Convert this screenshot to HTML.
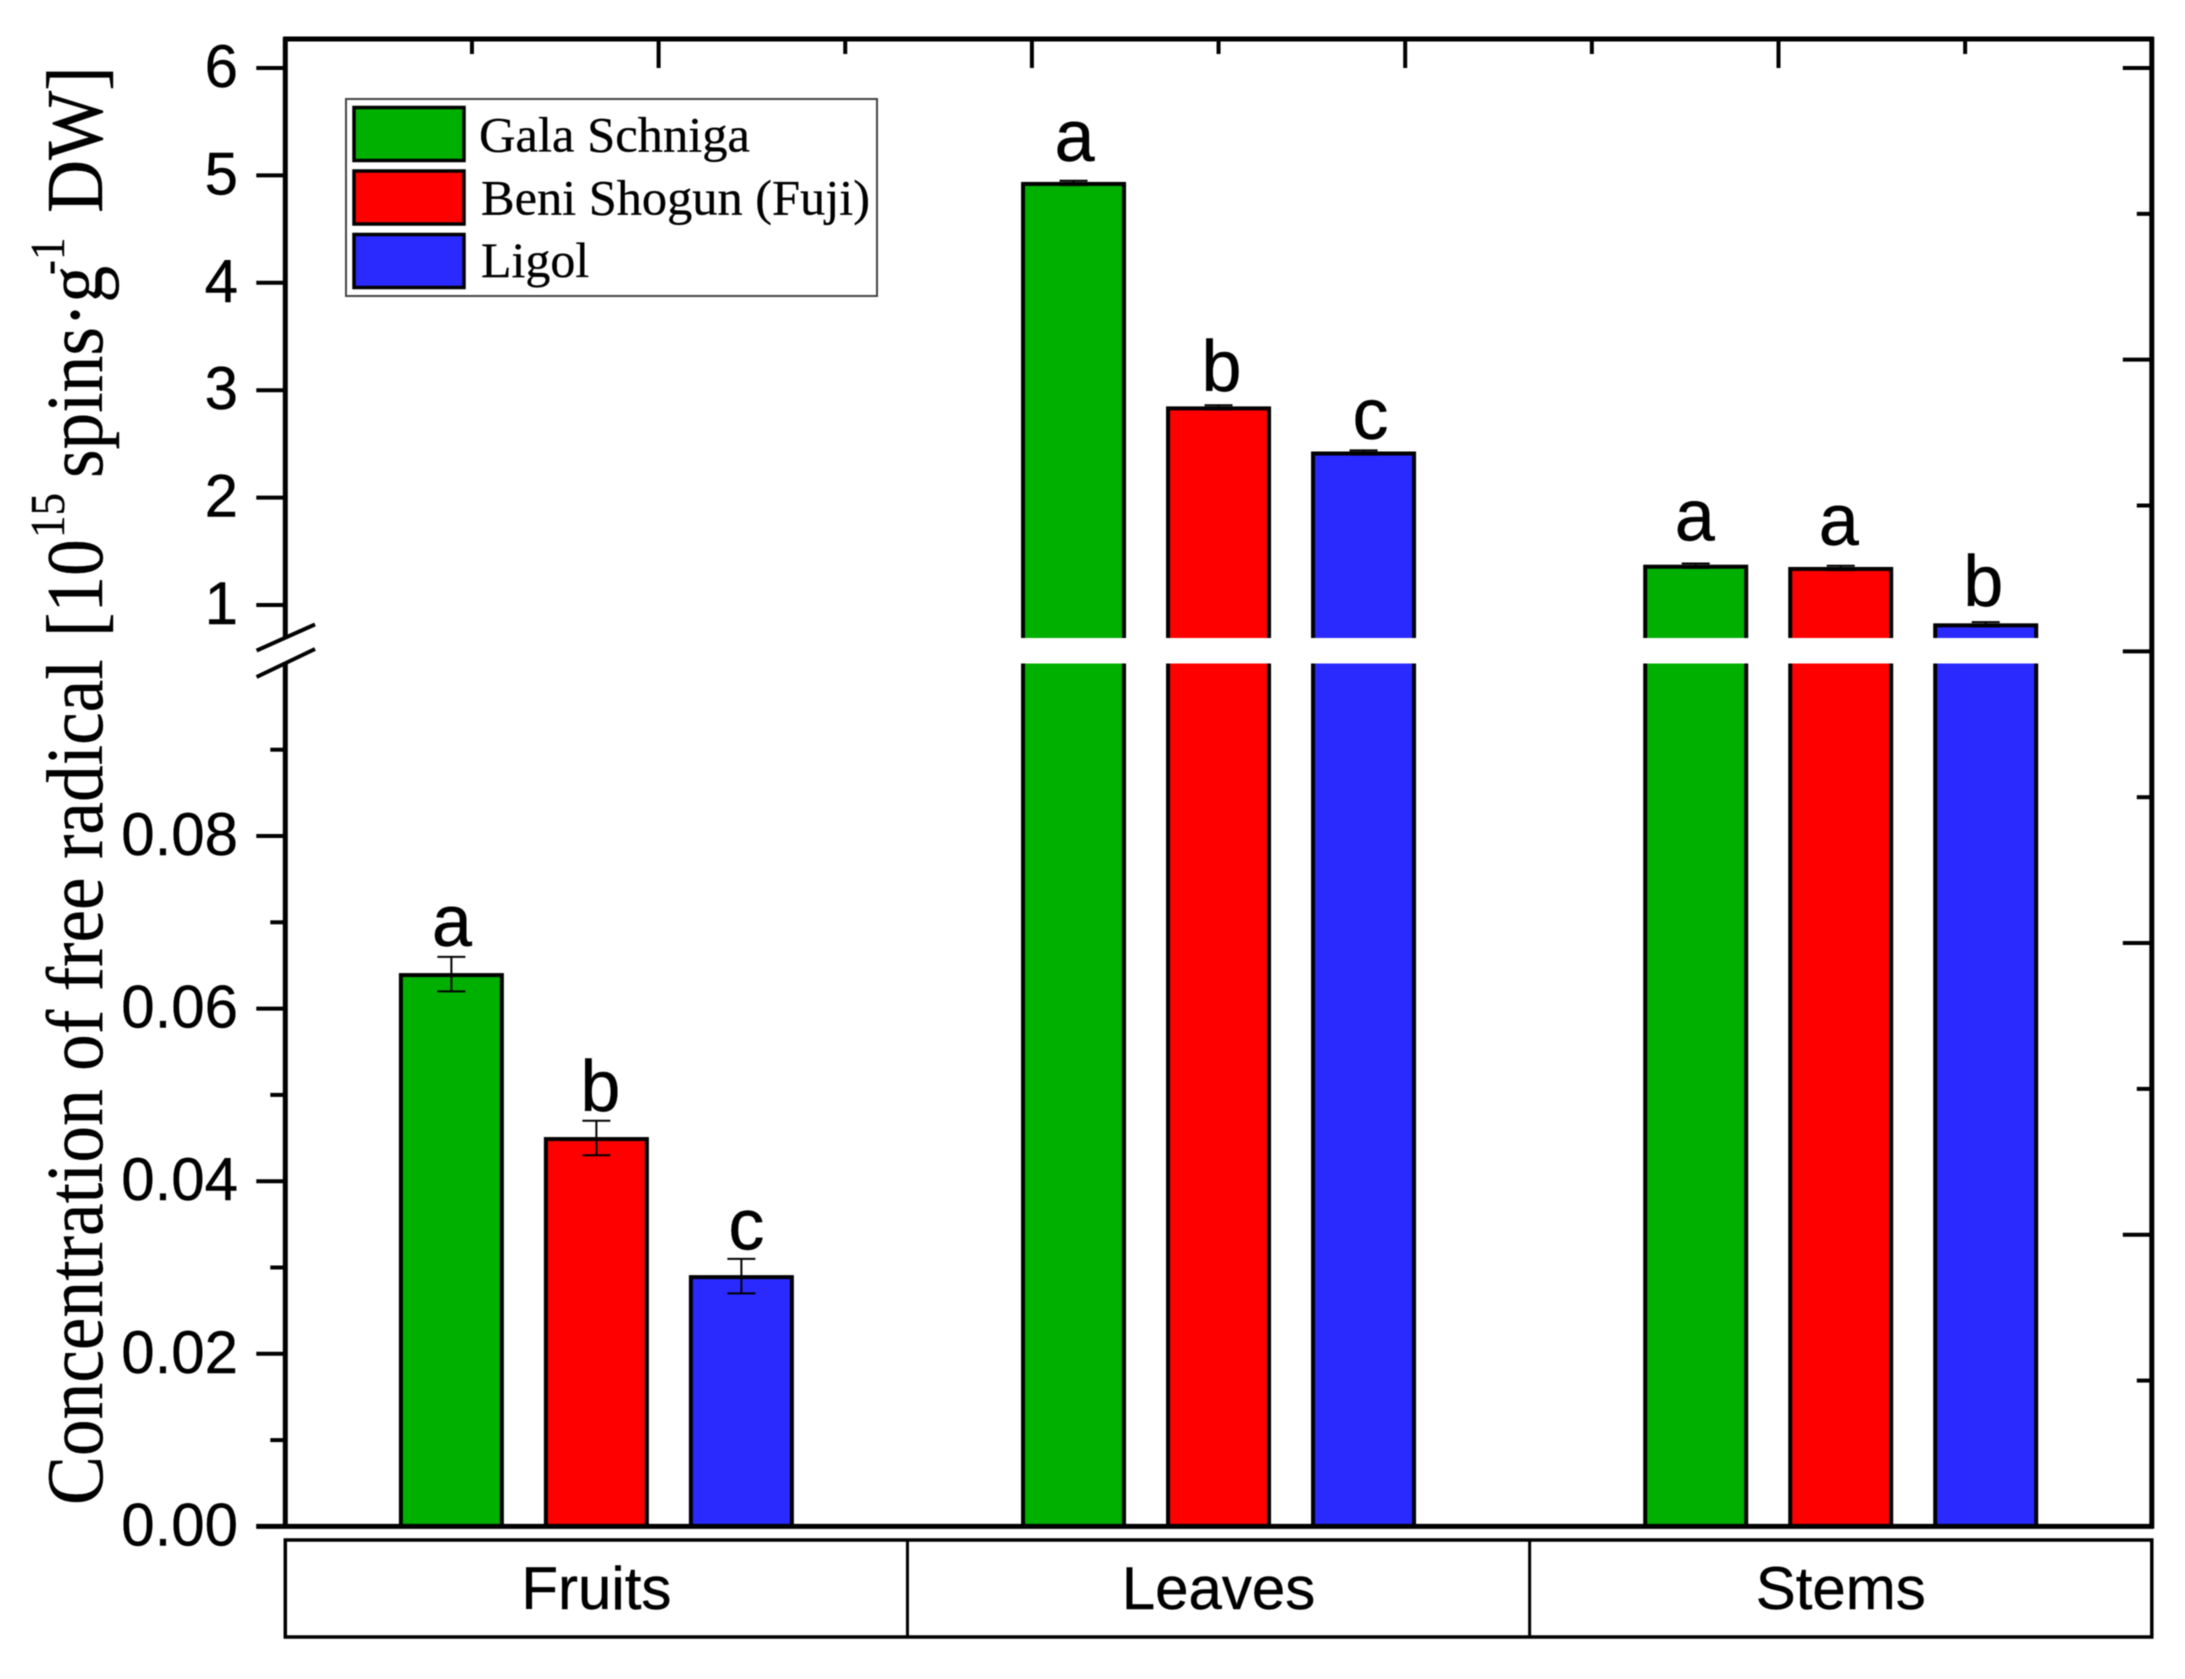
<!DOCTYPE html>
<html lang="en">
<head>
<meta charset="utf-8">
<title>Concentration of free radical in apple organs</title>
<style>
html,body{margin:0;padding:0;background:#fff;width:2185px;height:1679px;overflow:hidden}
svg{display:block;filter:blur(0.6px)}
.sans{font-family:"Liberation Sans",sans-serif;fill:#000;stroke:#000;stroke-width:.4px}
.serif{font-family:"Liberation Serif",serif;fill:#000;stroke:#000;stroke-width:.3px}
</style>
</head>
<body>
<svg id="chart" xmlns="http://www.w3.org/2000/svg" width="2185" height="1679" viewBox="0 0 2185 1679">
  <rect x="0" y="0" width="2185" height="1679" fill="#fff"/>
  <g id="bars"></g>
  <g id="axes"></g>
  <g id="cats"></g>
  <g id="labels"></g>

  <text class="serif" transform="translate(102,1505) rotate(-90) scale(1,1.09)" font-size="73.4">Concentration of free radical <tspan x="868">[10</tspan><tspan x="967" y="-35" font-size="45">15</tspan><tspan x="1027" y="0">spins·g</tspan><tspan x="1230" y="-35" font-size="45">-1</tspan><tspan x="1292" y="0">DW]</tspan></text>

  <g>
    <rect x="346" y="99" width="531" height="197" fill="#fff" stroke="#444" stroke-width="2"/>
    <rect x="354" y="107.5" width="110" height="53" fill="#00b000" stroke="#000" stroke-width="3.5"/>
    <rect x="354" y="171" width="110" height="53" fill="#ff0000" stroke="#000" stroke-width="3.5"/>
    <rect x="354" y="234.5" width="110" height="53" fill="#2a2aff" stroke="#000" stroke-width="3.5"/>
    <text class="serif" x="479" y="151.5" font-size="50" textLength="271" lengthAdjust="spacingAndGlyphs">Gala Schniga</text>
    <text class="serif" x="481" y="214.5" font-size="50" textLength="389" lengthAdjust="spacingAndGlyphs">Beni Shogun (Fuji)</text>
    <text class="serif" x="481" y="277" font-size="50">Ligol</text>
  </g>
</svg>

<script>
const categories = ['Fruits', 'Leaves', 'Stems'];
const seriesNames = ['Gala Schniga', 'Beni Shogun (Fuji)', 'Ligol'];
const galaValues = [0.064, 4.93, 1.366];
const beniValues = [0.045, 2.84, 1.345];
const ligolValues = [0.029, 2.42, 0.82];
const galaErrors = [0.002, 0.02, 0.02];
const beniErrors = [0.002, 0.02, 0.02];
const ligolErrors = [0.002, 0.02, 0.02];
const galaLetters = ['a', 'a', 'a'];
const beniLetters = ['b', 'b', 'a'];
const ligolLetters = ['c', 'c', 'b'];
const upperTicks = [1, 2, 3, 4, 5, 6];
const upperTickLabels = ['1', '2', '3', '4', '5', '6'];
const lowerMajorTicks = [0, 0.02, 0.04, 0.06, 0.08];
const lowerTickLabels = ['0.00', '0.02', '0.04', '0.06', '0.08'];
const lowerMinorTicks = [0.01, 0.03, 0.05, 0.07, 0.09];

const seriesValues = [galaValues, beniValues, ligolValues];
const seriesErrors = [galaErrors, beniErrors, ligolErrors];
const seriesLetters = [galaLetters, beniLetters, ligolLetters];
const seriesColors = ['#00b000', '#ff0000', '#2a2aff'];

const NS = 'http://www.w3.org/2000/svg';
const plotLeft = 285.3, plotRight = 2151.8, plotTop = 39, plotBottom = 1526.4;
const breakLowValue = 0.1, breakHighValue = 0.7;
const gapTop = 638, gapBottom = 663.5;

function yAxis(v) {
  if (v <= breakLowValue) return plotBottom - v * 8630;
  if (v >= breakHighValue) return 605 - (v - 1) * 107.4;
  return gapTop;
}
function xAxis(categoryIndex) {
  return plotLeft + (categoryIndex + 0.5) * (plotRight - plotLeft) / categories.length;
}
function barCenter(categoryIndex, seriesIndex) {
  return xAxis(categoryIndex) + (seriesIndex - 1) * 145;
}
function make(parent, tag, attrs, text) {
  const el = document.createElementNS(NS, tag);
  for (const k in attrs) el.setAttribute(k, attrs[k]);
  if (text !== undefined) el.textContent = text;
  parent.appendChild(el);
  return el;
}

const barsLayer = document.getElementById('bars');
const axesLayer = document.getElementById('axes');
const catsLayer = document.getElementById('cats');
const labelsLayer = document.getElementById('labels');
const barOuter = 105, barStroke = 4;

categories.forEach(function (cat, c) {
  seriesNames.forEach(function (name, s) {
    const v = seriesValues[s][c];
    const e = seriesErrors[s][c];
    const cx = barCenter(c, s);
    const yTop = yAxis(v);
    const bar = make(barsLayer, 'rect', {
      x: cx - barOuter / 2 + barStroke / 2,
      y: yTop + 1,
      width: barOuter - barStroke,
      height: plotBottom - yTop - 1,
      fill: seriesColors[s],
      stroke: '#000',
      'stroke-width': barStroke
    });
    
    

    const stem = make(barsLayer, 'line', {
      x1: cx, x2: cx, y1: yAxis(v + e) , y2: yAxis(v - e),
      stroke: '#000', 'stroke-width': 2
    });
    
    

    const capTop = make(barsLayer, 'line', {
      x1: cx - 14, x2: cx + 14, y1: yAxis(v + e), y2: yAxis(v + e),
      stroke: '#000', 'stroke-width': 2
    });
    
    

    const capBottom = make(barsLayer, 'line', {
      x1: cx - 14, x2: cx + 14, y1: yAxis(v - e), y2: yAxis(v - e),
      stroke: '#000', 'stroke-width': 2
    });
    
    

    const lift = [[11, 20, 23], [10, 14, 21], [9.5, 11.5, 16]][s][c];
    const letter = make(labelsLayer, 'text', {
      x: cx + [[0.5, 1, -1], [4, 3, -2], [5, 7, -2.5]][s][c],
      y: yAxis(v + e) - lift,
      'text-anchor': 'middle',
      'font-size': 72,
      class: 'sans'
    }, seriesLetters[s][c]);
    
    
  });

  const catText = make(catsLayer, 'text', {
    x: xAxis(c), y: 1609, 'text-anchor': 'middle', 'font-size': 60, class: 'sans'
  }, cat);
  
  
});

/* white axis-break band across the bars */
const gap = make(barsLayer, 'rect', {
  x: plotLeft + 4, y: gapTop, width: plotRight - plotLeft - 8, height: gapBottom - gapTop, fill: '#fff'
});



/* category panel frame */
const catFrame = make(catsLayer, 'rect', {
  x: plotLeft, y: 1540, width: plotRight - plotLeft, height: 97, fill: 'none', stroke: '#000', 'stroke-width': 3.5
});


[1, 2].forEach(function (i) {
  const x = plotLeft + i * (plotRight - plotLeft) / categories.length;
  const sep = make(catsLayer, 'line', { x1: x, x2: x, y1: 1540, y2: 1637, stroke: '#000', 'stroke-width': 3 });
  
  
});

/* axis lines */
const axisW = 5;
const leftUpper = make(axesLayer, 'line', { x1: plotLeft, x2: plotLeft, y1: plotTop - 2, y2: gapTop, stroke: '#000', 'stroke-width': axisW });


const leftLower = make(axesLayer, 'line', { x1: plotLeft, x2: plotLeft, y1: gapBottom, y2: plotBottom, stroke: '#000', 'stroke-width': axisW });


const rightLine = make(axesLayer, 'line', { x1: plotRight, x2: plotRight, y1: plotTop - 2, y2: plotBottom + 2, stroke: '#000', 'stroke-width': axisW });


const topLine = make(axesLayer, 'line', { x1: plotLeft - 2, x2: plotRight + 2, y1: plotTop, y2: plotTop, stroke: '#000', 'stroke-width': axisW });


const bottomLine = make(axesLayer, 'line', { x1: plotLeft - 29, x2: plotRight + 2, y1: plotBottom, y2: plotBottom, stroke: '#000', 'stroke-width': axisW });



/* break marks */
[[650.6, 624.4], [677, 649]].forEach(function (m) {
  const mark = make(axesLayer, 'line', { x1: 256.6, x2: 315, y1: m[0], y2: m[1], stroke: '#000', 'stroke-width': 4 });
  
  
});

/* y ticks + labels */
upperTicks.forEach(function (t, i) {
  const y = yAxis(t);
  const tick = make(axesLayer, 'line', { x1: plotLeft - 29, x2: plotLeft, y1: y, y2: y, stroke: '#000', 'stroke-width': 4 });
  
  
  const lab = make(axesLayer, 'text', { x: 238, y: y + 19, 'text-anchor': 'end', 'font-size': 60, class: 'sans' }, upperTickLabels[i]);
  
  
});
lowerMajorTicks.forEach(function (t, i) {
  const y = yAxis(t);
  const tick = make(axesLayer, 'line', { x1: plotLeft - 29, x2: plotLeft, y1: y, y2: y, stroke: '#000', 'stroke-width': 4 });
  
  
  const lab = make(axesLayer, 'text', { x: 238, y: y + 19, 'text-anchor': 'end', 'font-size': 60, class: 'sans' }, lowerTickLabels[i]);
  
  
});
lowerMinorTicks.forEach(function (t) {
  const y = yAxis(t);
  const tick = make(axesLayer, 'line', { x1: plotLeft - 15, x2: plotLeft, y1: y, y2: y, stroke: '#000', 'stroke-width': 4 });
  
  
});

/* mirrored ticks: right and top edges */
const rightSteps = 10, topSteps = 10;
for (let i = 0; i < rightSteps; i++) {
  const y = 68 + i * (plotBottom - 68) / rightSteps;
  const len = i % 2 === 0 ? 29 : 15;
  const tick = make(axesLayer, 'line', { x1: plotRight - len, x2: plotRight, y1: y, y2: y, stroke: '#000', 'stroke-width': 4 });
  
  
}
for (let i = 1; i < topSteps; i++) {
  const x = plotLeft + i * (plotRight - plotLeft) / topSteps;
  const len = i % 2 === 0 ? 29 : 15;
  const tick = make(axesLayer, 'line', { x1: x, x2: x, y1: plotTop, y2: plotTop + len, stroke: '#000', 'stroke-width': 4 });
  
  
}
</script>
</body>
</html>
